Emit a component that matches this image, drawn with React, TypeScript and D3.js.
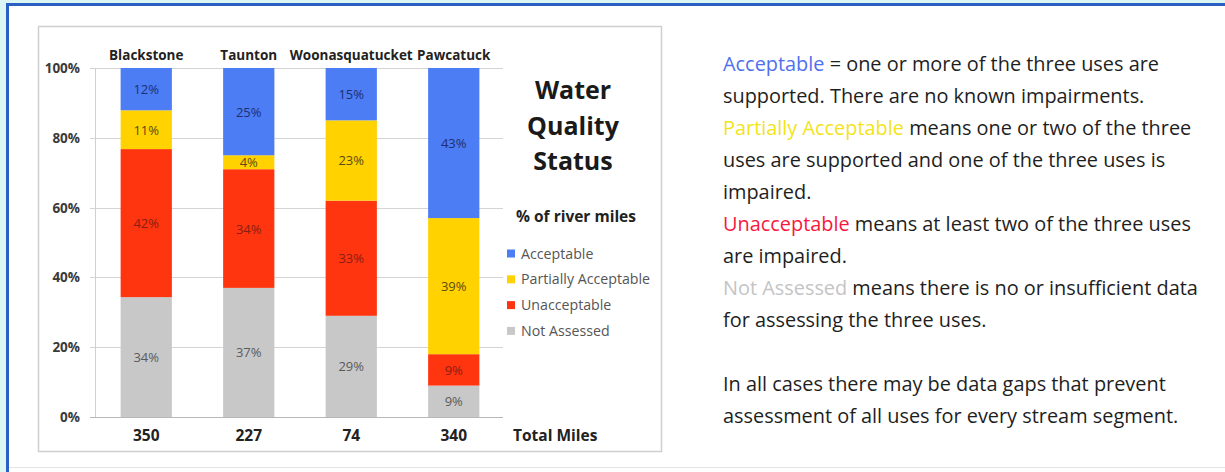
import React, { useEffect, useRef } from 'react';
import * as d3 from 'd3';

// river basins and their values (percent of river miles)
const rivers = ['Blackstone', 'Taunton', 'Woonasquatucket', 'Pawcatuck'];
const totalMiles = [350, 227, 74, 340];
const acceptable = [12, 25, 15, 43];
const partiallyAcceptable = [11, 4, 23, 39];
const unacceptable = [42, 34, 33, 9];
const notAssessed = [34, 37, 29, 9];
const yTicks = [0, 0.2, 0.4, 0.6, 0.8, 1];

const seriesKeys = ['notAssessed', 'unacceptable', 'partial', 'acceptable'];
const seriesNames: Record<string, string> = {
  acceptable: 'Acceptable',
  partial: 'Partially Acceptable',
  unacceptable: 'Unacceptable',
  notAssessed: 'Not Assessed',
};
const seriesColors: Record<string, string> = {
  acceptable: '#4c7df4',
  partial: '#ffd200',
  unacceptable: '#ff3510',
  notAssessed: '#c8c8c8',
};
const labelColors: Record<string, string> = {
  acceptable: '#1e2f72',
  partial: '#5a4a10',
  unacceptable: '#8a1e10',
  notAssessed: '#5a5a5a',
};
const legendOrder = ['acceptable', 'partial', 'unacceptable', 'notAssessed'];

// explanatory text on the right, each line as coloured pieces
const noteLines: [string, string][][] = [
  [['Acceptable', '#5070ee'], [' = one or more of the three uses are', '#1e1e1e']],
  [['supported. There are no known impairments.', '#1e1e1e']],
  [['Partially Acceptable', '#f2e41a'], [' means one or two of the three', '#1e1e1e']],
  [['uses are supported and one of the three uses is', '#1e1e1e']],
  [['impaired.', '#1e1e1e']],
  [['Unacceptable', '#f8173e'], [' means at least two of the three uses', '#1e1e1e']],
  [['are impaired.', '#1e1e1e']],
  [['Not Assessed', '#c4c4c4'], [' means there is no or insufficient data', '#1e1e1e']],
  [['for assessing the three uses.', '#1e1e1e']],
  [],
  [['In all cases there may be data gaps that prevent', '#1e1e1e']],
  [['assessment of all uses for every stream segment.', '#1e1e1e']],
];

const W = 1225;
const H = 472;
const FONT = '"Open Sans", Lato, sans-serif';

const App = () => {
  const svgRef = useRef<SVGSVGElement | null>(null);

  useEffect(() => {
    if (!svgRef.current) return;
    const svg = d3.select(svgRef.current);
    svg.selectAll('*').remove();

    // page background + blue frame
    svg.append('rect').attr('width', W).attr('height', H).attr('fill', '#dcf6f3');
    svg.append('rect').attr('x', 6).attr('y', 3).attr('width', W - 6).attr('height', H - 3).attr('fill', '#2b5fc4');
    svg.append('rect').attr('x', 9).attr('y', 6).attr('width', W - 9).attr('height', H - 6).attr('fill', '#ffffff');
    svg.append('line').attr('x1', 9).attr('x2', W).attr('y1', 467.5).attr('y2', 467.5)
      .attr('stroke', '#e4e4e4');

    // chart box
    svg.append('rect').attr('x', 38.5).attr('y', 26.5).attr('width', 623).attr('height', 425)
      .attr('fill', '#ffffff').attr('stroke', '#cfcfcf').attr('stroke-width', 1.5);

    const rows = rivers.map((r, i) => ({
      river: r,
      acceptable: acceptable[i],
      partial: partiallyAcceptable[i],
      unacceptable: unacceptable[i],
      notAssessed: notAssessed[i],
    }));

    const x = d3.scaleBand().domain(rivers).range([95, 505]).paddingInner(0.5).paddingOuter(0.25);
    const y = d3.scaleLinear().domain([0, 1]).range([417, 68]);

    const stacked = d3.stack<any>().keys(seriesKeys).offset(d3.stackOffsetExpand)(rows);

    const g = svg.append('g');

    // gridlines
    g.selectAll('.grid')
      .data(yTicks)
      .join('line')
      .attr('x1', 90).attr('x2', 503)
      .attr('y1', d => Math.round(y(d)) + 0.5).attr('y2', d => Math.round(y(d)) + 0.5)
      .attr('stroke', d => (d === 0 ? '#b8b8b8' : '#d4d4d4'))
      .attr('stroke-width', 1);
    g.append('line').attr('x1', 95.5).attr('x2', 95.5).attr('y1', y(1)).attr('y2', y(0))
      .attr('stroke', '#d0d0d0');

    g.selectAll('.ytick')
      .data(yTicks)
      .join('text')
      .attr('x', 80).attr('y', d => y(d) + 5)
      .attr('text-anchor', 'end')
      .style('font-family', FONT).style('font-size', '13.5px').style('font-weight', 700)
      .style('fill', '#3a3a3a')
      .text(d => d3.format('.0%')(d));

    // bars
    const layer = g.selectAll('.layer')
      .data(stacked)
      .join('g')
      .attr('fill', d => seriesColors[d.key]);
    layer.selectAll('rect')
      .data(d => d)
      .join('rect')
      .attr('x', d => x(d.data.river)!)
      .attr('width', x.bandwidth())
      .attr('y', d => y(d[1]))
      .attr('height', d => y(d[0]) - y(d[1]));

    // value labels in bars
    stacked.forEach(s => {
      g.selectAll(null)
        .data(s)
        .join('text')
        .attr('x', d => x(d.data.river)! + x.bandwidth() / 2)
        .attr('y', d => (y(d[0]) + y(d[1])) / 2 + 5)
        .attr('text-anchor', 'middle')
        .style('font-family', FONT).style('font-size', '13px')
        .style('fill', labelColors[s.key])
        .text(d => `${d.data[s.key]}%`);
    });

    // river names on top
    g.selectAll('.cat')
      .data(rivers)
      .join('text')
      .attr('x', d => x(d)! + x.bandwidth() / 2)
      .attr('y', 60)
      .attr('text-anchor', 'middle')
      .style('font-family', FONT).style('font-size', '13.5px').style('font-weight', 700)
      .style('fill', '#222')
      .text(d => d);

    // total miles under bars
    g.selectAll('.total')
      .data(rivers)
      .join('text')
      .attr('x', d => x(d)! + x.bandwidth() / 2)
      .attr('y', 441)
      .attr('text-anchor', 'middle')
      .style('font-family', FONT).style('font-size', '15.5px').style('font-weight', 700)
      .style('fill', '#222')
      .text((d, i) => totalMiles[i]);
    g.append('text')
      .attr('x', 513).attr('y', 441)
      .style('font-family', FONT).style('font-size', '15.5px').style('font-weight', 700)
      .style('fill', '#222')
      .text('Total Miles');

    // title
    ['Water', 'Quality', 'Status'].forEach((t, i) => {
      g.append('text')
        .attr('x', 573).attr('y', 99 + i * 35.5)
        .attr('text-anchor', 'middle')
        .style('font-family', FONT).style('font-size', '25px').style('font-weight', 700)
        .style('fill', '#1a1a1a')
        .text(t);
    });
    g.append('text')
      .attr('x', 576).attr('y', 222)
      .attr('text-anchor', 'middle')
      .style('font-family', FONT).style('font-size', '15.5px').style('font-weight', 700)
      .style('fill', '#222')
      .text('% of river miles');

    // legend
    const lg = g.selectAll('.legend')
      .data(legendOrder)
      .join('g')
      .attr('transform', (d, i) => `translate(507,${253.5 + i * 25.8})`);
    lg.append('rect').attr('x', 0).attr('y', -4).attr('width', 8).attr('height', 8)
      .attr('fill', d => seriesColors[d]);
    lg.append('text')
      .attr('x', 14).attr('y', 5)
      .style('font-family', FONT).style('font-size', '14.2px')
      .style('fill', '#555')
      .text(d => seriesNames[d]);

    // notes on the right
    const notes = svg.append('g');
    noteLines.forEach((line, i) => {
      if (!line.length) return;
      const t = notes.append('text')
        .attr('x', 723).attr('y', 71 + i * 32)
        .style('font-family', FONT).style('font-size', '19.9px');
      line.forEach(([txt, col]) => {
        t.append('tspan').attr('fill', col).text(txt);
      });
    });
  }, []);

  return (
    <svg
      ref={svgRef}
      width={W}
      height={H}
      style={{ position: 'absolute', left: 0, top: 0, display: 'block' }}
    />
  );
};

export default App;
